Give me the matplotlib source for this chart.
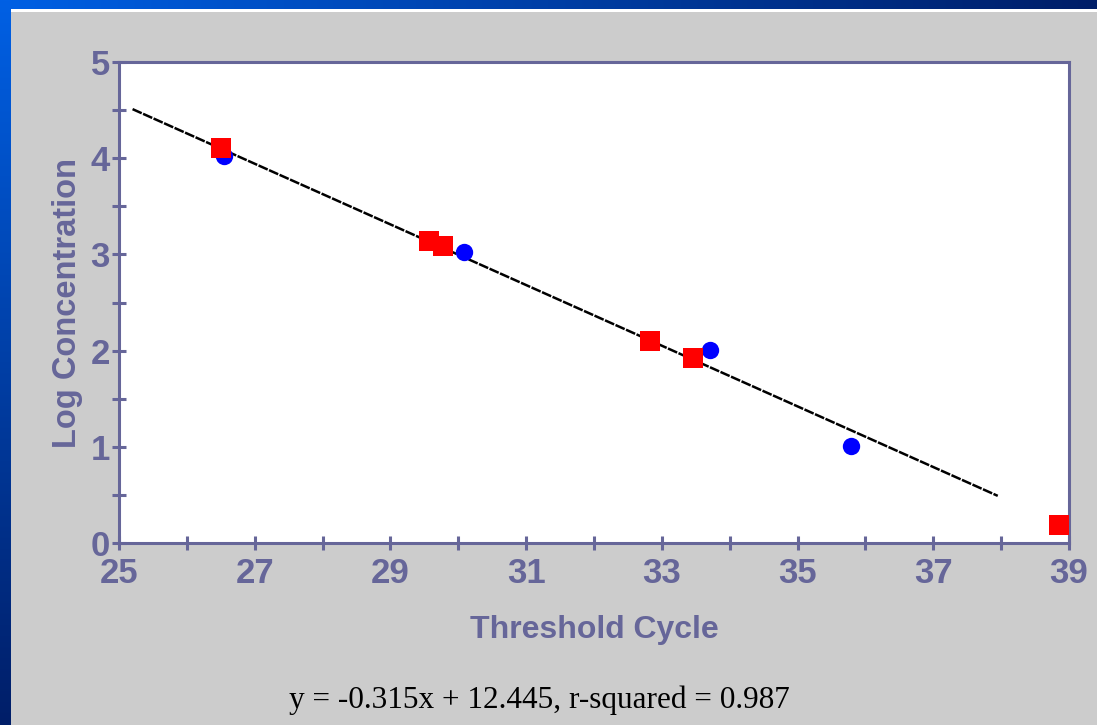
import numpy as np
import matplotlib
matplotlib.use("Agg")
import matplotlib.pyplot as plt
from matplotlib.patches import Rectangle
from matplotlib.ticker import MultipleLocator

# ---- data ----
blue_x = [26.55, 30.08, 33.71, 35.79]
blue_y = [4.02, 3.02, 2.01, 1.01]
red_x = [26.50, 29.57, 29.78, 32.82, 33.46, 38.85]
red_y = [4.11, 3.14, 3.09, 2.10, 1.92, 0.19]
fit_x = [25.20, 37.95]
fit_y = [4.51, 0.49]
x_ticks = [25, 27, 29, 31, 33, 35, 37, 39]
y_ticks = [0, 1, 2, 3, 4, 5]
x_label = "Threshold Cycle"
y_label = "Log Concentration"
equation = "y = -0.315x + 12.445, r-squared = 0.987"

W, H = 1097, 725
fig = plt.figure(figsize=(W / 100, H / 100), dpi=100)
fig.patch.set_facecolor("#CCCCCC")

# background frame (blue gradient strips + white line)
bg = fig.add_axes([0, 0, 1, 1], zorder=-10)
bg.set_xlim(0, W)
bg.set_ylim(H, 0)
bg.axis("off")
c0 = np.array([0, 96, 228]) / 255
c1 = np.array([0, 30, 104]) / 255
t = np.linspace(0, 1, 256)
top_grad = (c0[None, :] * (1 - t[:, None]) + c1[None, :] * t[:, None])[None, :, :]
left_grad = (c0[None, :] * (1 - t[:, None]) + c1[None, :] * t[:, None])[:, None, :]
bg.imshow(top_grad, extent=[0, W, 9, 0], aspect="auto", interpolation="bilinear")
bg.imshow(left_grad, extent=[0, 11, H, 0], aspect="auto", interpolation="bilinear")
bg.add_patch(Rectangle((11, 9), W - 11, 3, facecolor="white", edgecolor="none"))
bg.set_xlim(0, W)
bg.set_ylim(H, 0)

axc = "#666699"
left, right, top, bottom = 119, 1069, 62, 543
ax = fig.add_axes([left / W, 1 - bottom / H, (right - left) / W, (bottom - top) / H])
ax.set_facecolor("white")
ax.set_xlim(25, 39)
ax.set_ylim(0, 5)

ax.plot(fit_x, fit_y, color="black", linewidth=1.8, dashes=(4, 0.6), zorder=2)
ax.plot(blue_x, blue_y, linestyle="none", marker="o", markersize=12.5,
        color="#0000FF", markeredgewidth=0, zorder=3)
ax.plot(red_x, red_y, linestyle="none", marker="s", markersize=14.4,
        color="#FF0000", markeredgewidth=0, zorder=4, clip_on=False)

for s in ax.spines.values():
    s.set_color(axc)
    s.set_linewidth(2.2)

ax.set_xticks(x_ticks)
ax.xaxis.set_minor_locator(MultipleLocator(1))
ax.set_yticks(y_ticks)
ax.yaxis.set_minor_locator(MultipleLocator(0.5))
ax.tick_params(which="both", direction="inout", color=axc, width=2.2,
               length=10, top=False, right=False)
ax.tick_params(axis="x", which="major", pad=5, labelsize=25, labelcolor=axc)
ax.tick_params(axis="y", which="major", pad=1.5, labelsize=25, labelcolor=axc)
for lab in ax.get_xticklabels() + ax.get_yticklabels():
    lab.set_fontfamily("Liberation Sans")
    lab.set_fontweight("bold")

ax.set_xlabel(x_label, fontsize=23, fontweight="bold", color=axc,
              family="Liberation Sans", labelpad=18)
ax.set_ylabel(y_label, fontsize=23.5, fontweight="bold", color=axc,
              family="Liberation Sans", labelpad=5.5)

fig.text(539 / W, 1 - 708 / H, equation, ha="center", va="baseline",
         fontsize=22.5, family="Liberation Serif", color="black")

fig.savefig("out.png", dpi=100, facecolor=fig.get_facecolor())
